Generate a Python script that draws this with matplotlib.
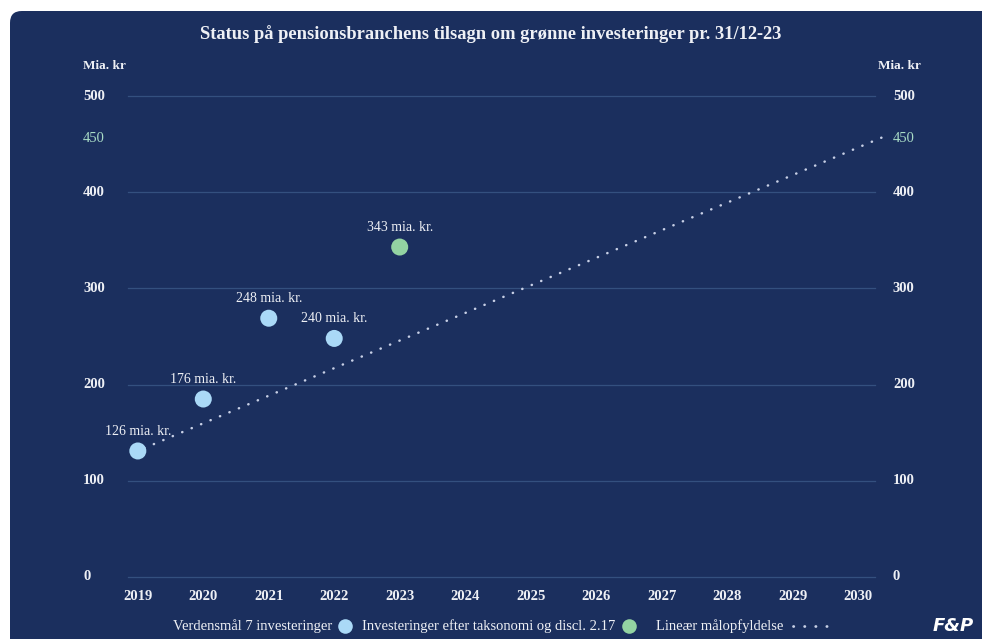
import matplotlib
matplotlib.use("Agg")
import matplotlib.pyplot as plt
from matplotlib.patches import FancyBboxPatch
from matplotlib.lines import Line2D
from matplotlib.transforms import blended_transform_factory, offset_copy

# ---- data ----
years_blue = [2019, 2020, 2021, 2022]
values_blue = [131, 185, 269, 248]
labels_blue = ["126 mia. kr.", "176 mia. kr.", "248 mia. kr.", "240 mia. kr."]
years_green = [2023]
values_green = [343]
labels_green = ["343 mia. kr."]
target_years = [2019.1, 2030.37]
target_values = [134, 457]
x_ticks = list(range(2019, 2031))
y_ticks = [0, 100, 200, 300, 400, 450, 500]
grid_values = [0, 100, 200, 300, 400, 500]
title = "Status på pensionsbranchens tilsagn om grønne investeringer pr. 31/12-23"
leg_labels = ["Verdensmål 7 investeringer",
              "Investeringer efter taksonomi og discl. 2.17",
              "Lineær målopfyldelse"]

NAVY = "#1b2f5e"
GRID = "#34507f"
TXT = "#eef0f5"
BLUE = "#aad9f7"
GREEN = "#93d3a2"
TEAL = "#a9dcc6"
DOT = "#c8d0e6"
SERIF = ["Liberation Serif", "DejaVu Serif"]
W, H = 982, 639

fig = plt.figure(figsize=(9.82, 6.39), dpi=100, facecolor="white")
bg = FancyBboxPatch((10 / W, -0.1), 1.2, 1.1 - 11 / H,
                    boxstyle="round,pad=0,rounding_size=0.012",
                    transform=fig.transFigure, facecolor=NAVY,
                    edgecolor="none", zorder=-10, mutation_aspect=W / H)
fig.patches.append(bg)

ax = fig.add_axes([128 / W, 1 - 577 / H, (875 - 128) / W, (577 - 96) / H])
ax.set_facecolor("none")
ax.set_zorder(1)
ax.set_xlim(2018.85, 2030.26)
ax.set_ylim(0, 500)
for s in ax.spines.values():
    s.set_visible(False)

for g in grid_values:
    ax.axhline(g, color=GRID, lw=0.9, zorder=1, clip_on=False)

ax.set_xticks(x_ticks)
ax.set_xticklabels([str(x) for x in x_ticks], fontfamily=SERIF,
                   fontweight="bold", fontsize=10.5, color=TXT)
ax.tick_params(axis="x", length=0, pad=9)
ax.set_yticks([])

trans = blended_transform_factory(ax.transAxes, ax.transData)
trans_up = offset_copy(trans, fig=fig, x=0, y=6, units="dots")
for v in y_ticks:
    col = TEAL if v == 450 else TXT
    fw = "normal" if v == 450 else "bold"
    tr = trans_up if v == 450 else trans
    ax.text(-0.0602, v, str(v), transform=tr, ha="left", va="center",
            fontfamily=SERIF, fontweight=fw, fontsize=10.5, color=col, clip_on=False)
    ax.text(1.024, v, str(v), transform=tr, ha="left", va="center",
            fontfamily=SERIF, fontweight=fw, fontsize=10.5, color=col, clip_on=False)

# target line
ax.plot(target_years, target_values, color=DOT, lw=1.8,
        linestyle=(0, (0.1, 4.0)), dash_capstyle="round", zorder=2, clip_on=False)

ax.scatter(years_blue, values_blue, s=150, color=BLUE, zorder=3, clip_on=False,
           edgecolors="none")
ax.scatter(years_green, values_green, s=150, color=GREEN, zorder=3, clip_on=False,
           edgecolors="none")
for x, y, l in zip(years_blue + years_green, values_blue + values_green,
                   labels_blue + labels_green):
    ax.annotate(l, (x, y), xytext=(0, 14), textcoords="offset points",
                ha="center", va="center", fontfamily=SERIF, fontsize=10,
                color=TXT)

fig.text(0.5, 1 - 34 / H, title, ha="center", va="center",
         fontfamily=SERIF, fontweight="bold", fontsize=13.3, color=TXT)
fig.text(83 / W, 1 - 66 / H, "Mia. kr", ha="left", va="center",
         fontfamily=SERIF, fontweight="bold", fontsize=9.5, color=TXT)
fig.text(921 / W, 1 - 66 / H, "Mia. kr", ha="right", va="center",
         fontfamily=SERIF, fontweight="bold", fontsize=9.5, color=TXT)

# manual legend
ly = 1 - 626 / H
lp = dict(fontfamily=SERIF, fontsize=10.5, color=TXT, va="center")
fig.text(332 / W, ly, leg_labels[0], ha="right", **lp)
fig.add_artist(Line2D([345 / W], [ly], marker="o", ls="none", color=BLUE,
                      markersize=10.5, markeredgewidth=0, transform=fig.transFigure))
fig.text(615 / W, ly, leg_labels[1], ha="right", **lp)
fig.add_artist(Line2D([629 / W], [ly], marker="o", ls="none", color=GREEN,
                      markersize=10.5, markeredgewidth=0, transform=fig.transFigure))
fig.text(656 / W, ly, leg_labels[2], ha="left", **lp)
fig.add_artist(Line2D([793 / W, 827 / W], [ly, ly], ls=(0, (0.1, 3.9)), lw=2.0,
                      color=DOT, dash_capstyle="round", transform=fig.transFigure))

fig.text(953 / W, 1 - 626 / H, "F&P", ha="center", va="center",
         fontfamily="DejaVu Sans", fontweight="bold", style="italic",
         fontsize=13, color="white")

fig.savefig("out.png", dpi=100, facecolor="white")
